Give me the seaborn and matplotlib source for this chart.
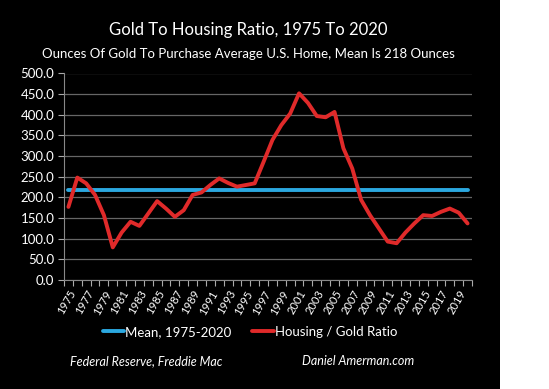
import numpy as np
import pandas as pd
import seaborn as sns
import matplotlib.pyplot as plt
from matplotlib.patches import Rectangle

# ounces of gold needed to buy the average U.S. home
years = list(range(1975, 2021))
ratio = [177, 248, 234, 206, 157, 79, 115, 141, 131, 161,
         191, 173, 153, 169, 206, 212, 230, 246, 235, 226,
         230, 234, 286, 339, 375, 403, 452, 429, 397, 394,
         407, 319, 270, 194, 157, 125, 93, 89, 115, 137,
         157, 155, 165, 173, 163, 137]
mean_value = 218

df = pd.DataFrame({'year': years, 'ratio': ratio, 'mean': mean_value})

sns.set_style('dark')
plt.rcParams['font.family'] = ['Lato', 'DejaVu Sans']

fig = plt.figure(figsize=(5.49, 3.89), dpi=100)
fig.patch.set_facecolor('white')
# black panel, white strip on the right
fig.patches.append(Rectangle((0, 0), 500 / 549, 1, transform=fig.transFigure,
                             facecolor='black', edgecolor='none', zorder=-5))

ax = fig.add_axes([64 / 549, 109 / 389, 408 / 549, 206.5 / 389])
ax.set_facecolor('black')

sns.lineplot(data=df, x='year', y='mean', ax=ax, color='#2ba8e0', linewidth=2.8,
             label='Mean, 1975-2020')
sns.lineplot(data=df, x='year', y='ratio', ax=ax, color='#e02a2a', linewidth=2.8,
             label='Housing / Gold Ratio')

ax.set_xlim(1974.5, 2020.5)
ax.set_ylim(0, 500)
ax.set_yticks(np.arange(0, 501, 50))
ax.set_yticklabels([f'{v:.1f}' for v in np.arange(0, 501, 50)], color='white', fontsize=9.5)
ax.set_xticks(years[::2])
ax.set_xticklabels([str(y) for y in years[::2]], rotation=60, ha='right',
                   rotation_mode='anchor', color='white', fontsize=8)
ax.set_xticks(np.arange(1974.5, 2021, 1), minor=True)
ax.tick_params(axis='x', which='major', length=0, pad=6)
ax.tick_params(axis='x', which='minor', length=4, color='#aaaaaa', width=0.8, bottom=True)
ax.tick_params(axis='y', length=4, color='#aaaaaa', width=0.8, pad=3, left=True)
ax.grid(axis='y', color='#666666', linewidth=0.9)
ax.grid(axis='x', visible=False)
ax.set_xlabel('')
ax.set_ylabel('')
for side in ['top', 'right']:
    ax.spines[side].set_visible(False)
ax.spines['left'].set_color('#888888')
ax.spines['bottom'].set_color('#888888')
ax.set_axisbelow(True)

ax.get_legend().remove()
handles, labels = ax.get_legend_handles_labels()
leg = fig.legend(handles, labels, loc='center', bbox_to_anchor=(250 / 549, 1 - 332 / 389),
                 ncol=2, frameon=False, fontsize=9.5, handlelength=1.6, handletextpad=0.1,
                 columnspacing=1.6)
for t in leg.get_texts():
    t.set_color('white')

fig.text(248 / 549, 1 - 30.5 / 389, 'Gold To Housing Ratio, 1975 To 2020',
         ha='center', va='center', color='white', fontsize=12)
fig.text(248 / 549, 1 - 54 / 389, 'Ounces Of Gold To Purchase Average U.S. Home, Mean Is 218 Ounces',
         ha='center', va='center', color='white', fontsize=9.5)
fig.text(146 / 549, 1 - 361 / 389, 'Federal Reserve, Freddie Mac', ha='center', va='center',
         color='white', fontsize=9, style='italic')
fig.text(358 / 549, 1 - 361 / 389, 'Daniel Amerman.com', ha='center', va='center',
         color='white', fontsize=9, style='italic')

fig.savefig('out.png', dpi=100, facecolor=fig.get_facecolor())
